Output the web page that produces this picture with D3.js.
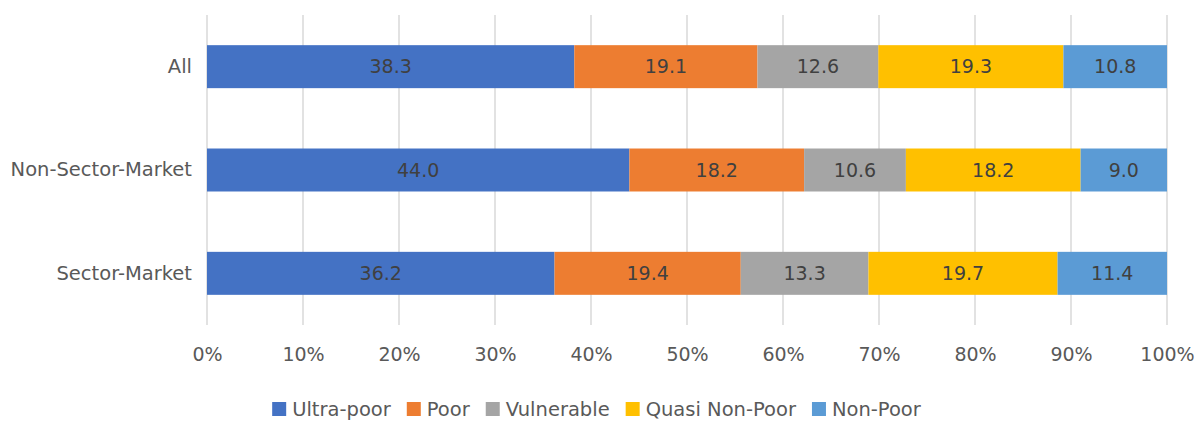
<!DOCTYPE html>
<html>
<head>
<meta charset="utf-8">
<script src="https://cdn.jsdelivr.net/npm/d3@7"></script>
<style>
  body { margin: 0; background: #fff; }
  text { font-family: "DejaVu Sans", sans-serif; }
</style>
</head>
<body>
<div id="chart"></div>
<script>
var categories = ["All", "Non-Sector-Market", "Sector-Market"];
var seriesNames = ["Ultra-poor", "Poor", "Vulnerable", "Quasi Non-Poor", "Non-Poor"];
var ultraPoor = [38.3, 44.0, 36.2];
var poor = [19.1, 18.2, 19.4];
var vulnerable = [12.6, 10.6, 13.3];
var quasiNonPoor = [19.3, 18.2, 19.7];
var nonPoor = [10.8, 9.0, 11.4];
var tickLabels = ["0%", "10%", "20%", "30%", "40%", "50%", "60%", "70%", "80%", "90%", "100%"];

var colors = ["#4472C4", "#ED7D31", "#A5A5A5", "#FFC000", "#5B9BD5"];

var svgWidth = 1200;
var svgHeight = 423;

var margin = { top: 15, right: 33, bottom: 98, left: 207 };
var width = svgWidth - margin.left - margin.right;
var height = svgHeight - margin.top - margin.bottom;

var svg = d3.select("#chart")
  .append("svg")
  .attr("width", svgWidth)
  .attr("height", svgHeight);

var chartGroup = svg.append("g")
  .attr("transform", `translate(${margin.left}, ${margin.top})`);

// build rows for the stack
var allSeries = [ultraPoor, poor, vulnerable, quasiNonPoor, nonPoor];
var rows = categories.map(function(c, i) {
  var row = { category: c };
  seriesNames.forEach(function(s, j) { row[s] = allSeries[j][i]; });
  return row;
});

var stacked = d3.stack().keys(seriesNames).offset(d3.stackOffsetExpand)(rows);

var xScale = d3.scaleLinear().domain([0, 1]).range([0, width]);
var yScale = d3.scaleBand()
  .domain(categories)
  .range([0, height])
  .paddingInner(0.584)
  .paddingOuter(0.292);

// gridlines
chartGroup.append("g")
  .selectAll("line")
  .data(d3.range(0, 1.0001, 0.1))
  .enter()
  .append("line")
  .attr("x1", d => xScale(d))
  .attr("x2", d => xScale(d))
  .attr("y1", 0)
  .attr("y2", height)
  .attr("stroke", "#d9d9d9")
  .attr("stroke-width", 1.5);

// bars
var layers = chartGroup.selectAll(".layer")
  .data(stacked)
  .enter()
  .append("g")
  .attr("fill", (d, i) => colors[i]);

layers.selectAll("rect")
  .data(d => d)
  .enter()
  .append("rect")
  .attr("x", d => xScale(d[0]))
  .attr("width", d => xScale(d[1]) - xScale(d[0]))
  .attr("y", d => yScale(d.data.category))
  .attr("height", yScale.bandwidth());

// data labels
layers.each(function(layer) {
  d3.select(this).selectAll("text")
    .data(layer)
    .enter()
    .append("text")
    .attr("x", d => (xScale(d[0]) + xScale(d[1])) / 2)
    .attr("y", d => yScale(d.data.category) + yScale.bandwidth() / 2)
    .attr("dy", "0.35em")
    .attr("text-anchor", "middle")
    .attr("font-size", "19px")
    .attr("fill", "#404040")
    .text(d => d.data[layer.key].toFixed(1));
});

// x axis labels
var bottomAxis = d3.axisBottom(xScale)
  .tickValues(d3.range(0, 1.0001, 0.1))
  .tickSize(0)
  .tickPadding(23)
  .tickFormat((d, i) => tickLabels[i]);

var xAxisGroup = chartGroup.append("g")
  .attr("transform", `translate(0, ${height})`)
  .call(bottomAxis);
xAxisGroup.select(".domain").remove();
xAxisGroup.selectAll("text")
  .attr("font-size", "19px")
  .attr("font-family", "DejaVu Sans, sans-serif")
  .attr("fill", "#595959");

// y axis labels
var leftAxis = d3.axisLeft(yScale).tickSize(0).tickPadding(15);
var yAxisGroup = chartGroup.append("g").call(leftAxis);
yAxisGroup.select(".domain").remove();
yAxisGroup.selectAll("text")
  .attr("font-size", "19.5px")
  .attr("font-family", "DejaVu Sans, sans-serif")
  .attr("fill", "#595959");

// legend
var legend = svg.append("g");
var lx = 0;
seriesNames.forEach(function(name, i) {
  var item = legend.append("g").attr("transform", `translate(${lx}, 0)`);
  item.append("rect")
    .attr("x", 0).attr("y", -7)
    .attr("width", 14).attr("height", 14)
    .attr("fill", colors[i]);
  var t = item.append("text")
    .attr("x", 20)
    .attr("y", 0)
    .attr("dy", "0.35em")
    .attr("font-size", "19.5px")
    .attr("fill", "#595959")
    .text(name);
  lx += 20 + t.node().getComputedTextLength() + 16;
});
legend.attr("transform", `translate(${596.5 - (lx - 16) / 2}, 409)`);
</script>
</body>
</html>
